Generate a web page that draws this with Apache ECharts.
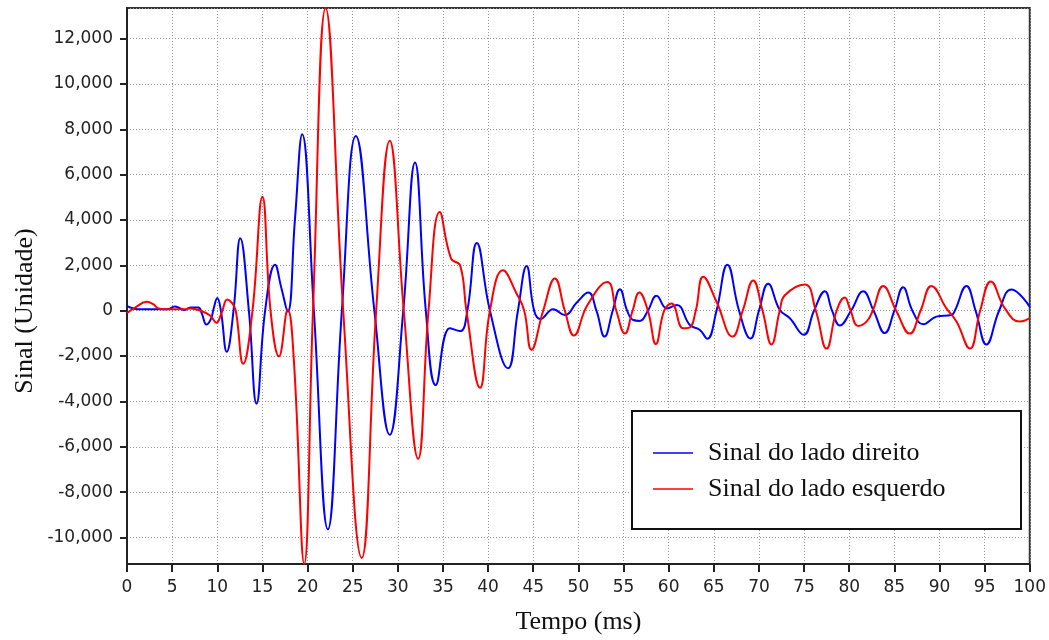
<!DOCTYPE html>
<html>
<head>
<meta charset="utf-8">
<script src="https://cdn.jsdelivr.net/npm/echarts@6/dist/echarts.min.js"></script>
<style>
html,body{margin:0;padding:0;background:#fff;}
#chart{width:1049px;height:640px;}
</style>
</head>
<body>
<div id="chart"></div>
<script>
// Sinal do lado direito (blue)
const rightTime = [0,0.7,1.5,3.0,4.5,5.3,5.9,6.4,7.0,7.9,8.3,8.8,9.3,9.6,10.0,10.4,11.05,11.8,12.55,13.5,14.35,15.3,16.4,17.1,17.8,18.6,19.4,20.7,22.25,23.8,25.35,27.4,29.1,30.6,31.9,33.1,34.2,35.75,36.9,37.7,38.75,40.2,42.2,43.3,44.26,45.1,45.8,47.2,48.5,49.8,51.1,52.0,52.9,53.8,54.6,55.4,56.07,56.8,57.7,58.66,59.8,60.9,62.35,63.46,64.27,65.3,66.5,67.8,69.06,70.0,71.02,72.31,73.42,74.97,76.1,77.3,78.1,78.96,80.2,81.54,82.7,83.94,85.0,85.97,87.0,88.19,89.66,91.32,91.7,92.98,94.0,95.2,96.6,97.97,100];
const rightSignal = [200,100,60,70,70,190,100,30,140,140,-140,-610,-360,100,560,0,-1810,0,3200,0,-4100,0,2030,1000,-50,4000,7780,0,-9640,0,7710,0,-5470,0,6540,0,-3280,-770,-900,0,2990,0,-2540,0,1970,0,-365,70,-190,350,800,0,-1140,0,950,0,-410,-450,0,660,100,250,-630,-850,-1240,0,2030,0,-1230,0,1190,30,-330,-1060,0,855,0,-650,0,855,0,-985,0,1040,0,-595,-260,-190,0,1090,0,-1490,0,940,170];

// Sinal do lado esquerdo (red)
const leftTime = [0,0.9,2.2,2.9,3.5,4.4,6.6,6.8,8.1,9.2,9.9,10.5,11.1,11.6,12.05,12.87,13.9,15.0,15.9,16.84,17.8,18.5,19.63,20.6,22.0,23.95,26.0,27.6,29.1,30.66,32.25,33.4,34.65,35.9,36.9,37.6,39.1,40.2,41.65,43.15,44.0,44.8,46.1,47.4,48.5,49.5,51.0,53.2,54.2,55.15,56.0,56.74,57.7,58.58,59.5,60.32,61.6,62.3,63.0,63.83,65.3,67.08,68.2,69.36,70.4,71.39,72.3,72.87,75.08,76.3,77.48,78.6,79.51,80.07,80.99,81.91,82.6,83.76,85.2,86.71,87.9,89.11,90.77,91.88,93.36,94.5,95.68,97.24,98.89,100];
const leftSignal = [-100,140,390,290,100,60,60,110,0,-210,-530,-70,500,360,0,-2340,0,5030,0,-2010,50,-2300,-11170,0,13350,0,-10900,0,7500,0,-6530,0,4350,2300,2000,0,-3400,0,1780,760,0,-1720,0,1420,0,-1095,250,1270,0,-1010,0,800,0,-1470,0,320,-775,-745,0,1500,395,-1140,0,1330,0,-1490,0,680,1160,0,-1670,0,580,100,-670,-480,0,1090,0,-1010,0,1090,100,-480,-1670,0,1290,100,-480,-330];

const seriesNames = ['Sinal do lado direito', 'Sinal do lado esquerdo'];
const xTitle = 'Tempo (ms)';
const yTitle = 'Sinal (Unidade)';

const zip = (t, v) => t.map((x, i) => [x, v[i]]);

const chart = echarts.init(document.getElementById('chart'), null, {renderer: 'canvas'});
const labelFont = {fontFamily: 'DejaVu Sans', fontSize: 17, color: '#222'};
chart.setOption({
  animation: false,
  backgroundColor: '#fff',
  grid: {left: 127, top: 8, width: 903, height: 559, show: true, borderColor: '#333', borderWidth: 2, backgroundColor: '#fff'},
  xAxis: {
    type: 'value', min: 0, max: 100, interval: 5,
    name: xTitle, nameLocation: 'middle', nameGap: 45,
    nameTextStyle: {fontFamily: 'Liberation Serif', fontSize: 26, color: '#111'},
    axisLine: {show: true, onZero: false, lineStyle: {color: '#222', width: 2}},
    axisTick: {show: true, length: 8, inside: false, lineStyle: {color: '#222', width: 2}},
    axisLabel: Object.assign({margin: 15}, labelFont),
    splitLine: {show: true, lineStyle: {type: [1, 2], color: '#999', width: 1}}
  },
  yAxis: {
    type: 'value', min: -11170, max: 13350, splitNumber: 12,
    axisLine: {show: true, onZero: false, lineStyle: {color: '#222', width: 2}},
    axisTick: {show: true, length: 7, inside: false, lineStyle: {color: '#222', width: 2}},
    axisLabel: Object.assign({margin: 14, showMinLabel: false, showMaxLabel: false,
      formatter: v => v.toLocaleString('en-US')}, labelFont),
    splitLine: {show: true, lineStyle: {type: [1, 2], color: '#999', width: 1}}
  },
  legend: {
    orient: 'vertical', left: 653, top: 440, padding: 0, itemGap: 10,
    icon: 'rect', itemWidth: 40, itemHeight: 1.5, z: 20,
    textStyle: {fontFamily: 'Liberation Serif', fontSize: 26, lineHeight: 26, color: '#111', padding: [0, 0, 0, 10]},
    data: seriesNames
  },
  graphic: [
    {type: 'rect', z: 10, shape: {x: 632, y: 411, width: 389, height: 118},
     style: {fill: '#fff', stroke: '#111', lineWidth: 2}},
    {type: 'text', z: 10, x: 25, y: 311, rotation: Math.PI / 2,
     style: {text: yTitle, fontFamily: 'Liberation Serif', fontSize: 26, fill: '#111', align: 'center', verticalAlign: 'middle'}}
  ],
  series: [
    {name: seriesNames[0], type: 'line', data: zip(rightTime, rightSignal), showSymbol: false,
     smooth: 0.45, lineStyle: {color: '#0000ff', width: 2}, itemStyle: {color: '#0000ff'}},
    {name: seriesNames[1], type: 'line', data: zip(leftTime, leftSignal), showSymbol: false,
     smooth: 0.45, lineStyle: {color: '#ff0000', width: 2}, itemStyle: {color: '#ff0000'}}
  ]
});
</script>
</body>
</html>
